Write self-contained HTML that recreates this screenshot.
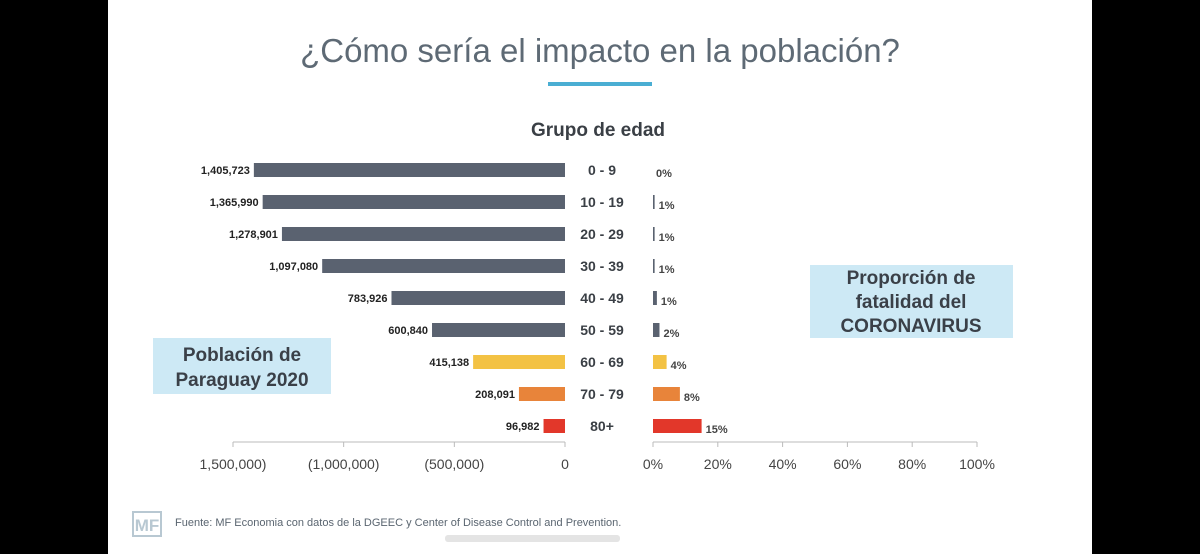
<!DOCTYPE html>
<html><head><meta charset="utf-8"><style>
body{margin:0;width:1200px;height:554px;background:#000;overflow:hidden;font-family:"Liberation Sans",sans-serif}
#slide{position:absolute;left:108px;top:0;width:984px;height:554px;background:#fff}
</style></head><body>
<div id="slide"></div>
<svg id="chart" width="1200" height="554" style="position:absolute;left:0;top:0" font-family="Liberation Sans, sans-serif">
<text x="600" y="62" text-anchor="middle" font-size="33" fill="#5e6a75">¿Cómo sería el impacto en la población?</text>
<rect x="548" y="82" width="104" height="4" fill="#4aaed3"/>
<text x="598" y="136" text-anchor="middle" font-size="19" font-weight="bold" fill="#3a3f45">Grupo de edad</text>
<rect x="153" y="338" width="178" height="56" fill="#cde9f5"/>
<text font-size="19" font-weight="bold" fill="#3a4048" text-anchor="middle"><tspan x="242" y="361">Población de</tspan><tspan x="242" y="386">Paraguay 2020</tspan></text>
<rect x="810" y="265" width="203" height="73" fill="#cde9f5"/>
<text font-size="19" font-weight="bold" fill="#3a4048" text-anchor="middle"><tspan x="911" y="284">Proporción de</tspan><tspan x="911" y="308">fatalidad del</tspan><tspan x="911" y="332">CORONAVIRUS</tspan></text>
<g id="marks"></g>
<rect x="133" y="512" width="28" height="24" fill="none" stroke="#b8c8d2" stroke-width="2"/>
<text x="147" y="531" text-anchor="middle" font-size="17" font-weight="bold" fill="#b8c8d2">MF</text>
<text x="175" y="526" font-size="11" fill="#5a6570">Fuente: MF Economia con datos de la DGEEC y Center of Disease Control and Prevention.</text>
<rect x="445" y="535" width="175" height="7" rx="3" fill="#e4e4e4"/>
</svg>
<script>
const ageGroups=["0 - 9","10 - 19","20 - 29","30 - 39","40 - 49","50 - 59","60 - 69","70 - 79","80+"];
const population=[1405723,1365990,1278901,1097080,783926,600840,415138,208091,96982];
const populationLabels=["1,405,723","1,365,990","1,278,901","1,097,080","783,926","600,840","415,138","208,091","96,982"];
const fatality=[0,0.5,0.5,0.5,1.2,2,4.2,8.3,15];
const fatalityLabels=["0%","1%","1%","1%","1%","2%","4%","8%","15%"];
const popTicks=[1500000,1000000,500000,0];
const popTickLabels=["1,500,000)","(1,000,000)","(500,000)","0"];
const pctTicks=[0,20,40,60,80,100];
const pctTickLabels=["0%","20%","40%","60%","80%","100%"];
const colors=["#5a6270","#5a6270","#5a6270","#5a6270","#5a6270","#5a6270","#f3c244","#e8843a","#e2372a"];
const NS="http://www.w3.org/2000/svg";
const g=document.getElementById('marks');
const xPop=v=>565-v*332/1500000;
const xPct=v=>653+v*324/100;
const yRow=i=>170+i*32;
function mk(t,a,txt){const e=document.createElementNS(NS,t);for(const k in a)e.setAttribute(k,a[k]);if(txt!==undefined)e.textContent=txt;g.appendChild(e);return e;}
ageGroups.forEach((a,i)=>{
  const y=yRow(i);
  let r=mk('rect',{x:xPop(population[i]),y:y-7,width:xPop(0)-xPop(population[i]),height:14,fill:colors[i]});
  
  
  let l=mk('text',{x:xPop(population[i])-4,y:y+4,'text-anchor':'end','font-size':11,'font-weight':'bold',fill:'#222'},populationLabels[i]);
  
  
  let c=mk('text',{x:602,y:y+5,'text-anchor':'middle','font-size':14,'font-weight':'bold',fill:'#3a3f45'},a);
  
  
  let fw=Math.max(xPct(fatality[i])-xPct(0),fatality[i]>0?1.5:0);
  let f=mk('rect',{x:xPct(0),y:y-7,width:fw,height:14,fill:colors[i]});
  
  
  let fl=mk('text',{x:xPct(0)+fw+(fatality[i]>0?4:3),y:y+7,'font-size':11,'font-weight':'bold',fill:'#444'},fatalityLabels[i]);
  
  
});
let ax=mk('line',{x1:xPop(1500000),x2:xPop(0),y1:442,y2:442,stroke:'#bbb'});


popTicks.forEach((t,i)=>{
  let k=mk('line',{x1:xPop(t),x2:xPop(t),y1:442,y2:447,stroke:'#bbb'});
  
  
  let l=mk('text',{x:xPop(t),y:469,'text-anchor':'middle','font-size':14,fill:'#444'},popTickLabels[i]);
  
  
});
let ax2=mk('line',{x1:xPct(0),x2:xPct(100),y1:442,y2:442,stroke:'#bbb'});


pctTicks.forEach((t,i)=>{
  let k=mk('line',{x1:xPct(t),x2:xPct(t),y1:442,y2:447,stroke:'#bbb'});
  
  
  let l=mk('text',{x:xPct(t),y:469,'text-anchor':'middle','font-size':14,fill:'#444'},pctTickLabels[i]);
  
  
});
</script>
</body></html>
